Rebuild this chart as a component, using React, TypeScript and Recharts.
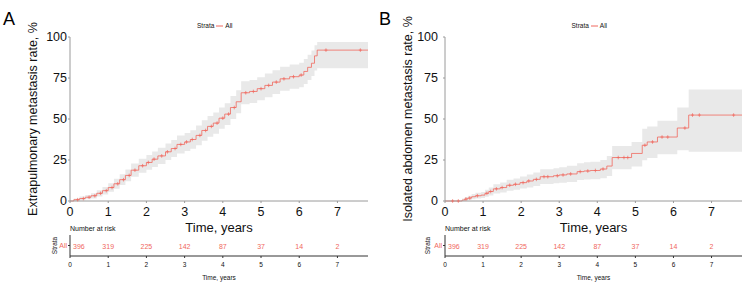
import React from "react";
import {
  Area,
  ComposedChart,
  Line,
  Scatter,
  XAxis,
  YAxis,
} from "recharts";

// panel A: extrapulmonary metastasis
const timesA = [0, 0.1, 0.25, 0.4, 0.55, 0.7, 0.85, 1.0, 1.15, 1.3, 1.45, 1.6, 1.8, 2.0, 2.15, 2.3, 2.5, 2.65, 2.8, 3.0, 3.15, 3.3, 3.45, 3.6, 3.75, 3.9, 4.05, 4.2, 4.35, 4.48, 4.7, 4.9, 5.1, 5.3, 5.5, 5.75, 6.0, 6.12, 6.22, 6.32, 6.4, 6.47, 7.8];
const rateA = [0, 0.8, 1.5, 2.3, 3.2, 4.7, 6.3, 8.2, 10.5, 13, 15.6, 18.8, 21.5, 23.5, 25.5, 27.5, 30, 32, 34.5, 36, 37.5, 40, 43, 45.5, 47.5, 50.5, 53, 57, 60.5, 66, 66.8, 68.5, 70.5, 72.5, 74.5, 75.8, 76.8, 79, 81.5, 84, 88.5, 92, 92];
const lowA = [0, 0, 0.4, 1, 1.6, 2.8, 4, 5.6, 7.5, 9.7, 12, 14.8, 17.2, 19, 20.8, 22.5, 25, 26.8, 29, 30.5, 31.8, 34, 36.8, 39.2, 41, 44, 46.4, 50, 53.5, 59, 59.8, 61.5, 63.3, 65.3, 67.2, 68.4, 69.3, 71.4, 73.8, 76.2, 79.5, 81, 81];
const highA = [0, 1.6, 2.7, 3.6, 4.8, 6.6, 8.6, 10.8, 13.5, 16.3, 19.2, 22.8, 25.8, 28, 30.2, 32.5, 35, 37.2, 40, 41.5, 43.2, 46, 49.2, 51.8, 54, 57, 59.6, 64, 67.5, 73, 73.8, 75.5, 77.7, 79.7, 81.8, 83.2, 84.3, 86.6, 89.2, 91.8, 95, 97, 97];
const censorA = [0.2, 0.35, 0.5, 0.65, 0.8, 0.95, 1.1, 1.25, 1.4, 1.55, 1.7, 1.9, 2.05, 2.2, 2.4, 2.55, 2.75, 2.9, 3.05, 3.2, 3.4, 3.55, 3.7, 3.85, 4.0, 4.15, 4.3, 4.6, 4.8, 5.0, 5.2, 5.4, 5.6, 5.85, 6.05, 6.7, 7.6];

// panel B: isolated abdomen metastasis
const timesB = [0, 0.45, 0.52, 0.6, 0.7, 0.8, 0.95, 1.05, 1.15, 1.27, 1.45, 1.62, 1.8, 1.97, 2.15, 2.32, 2.5, 2.85, 3.0, 3.2, 3.47, 3.65, 3.82, 4.08, 4.25, 4.39, 4.9, 5.18, 5.31, 5.58, 6.1, 6.4, 7.8];
const rateB = [0, 0.6, 1.2, 1.8, 2.6, 3.2, 3.6, 4.7, 5.8, 7.4, 8.2, 9.6, 10.2, 11.2, 12.2, 13.2, 14.8, 15.4, 15.9, 16.5, 17.9, 18.3, 18.6, 19.5, 21.3, 26.5, 29, 34, 36, 39, 44.5, 52.4, 52.4];
const lowB = [0, 0, 0.2, 0.6, 1.1, 1.5, 1.8, 2.6, 3.4, 4.6, 5.2, 6.3, 6.8, 7.6, 8.3, 9.1, 10.4, 10.8, 11.2, 11.6, 12.8, 13.1, 13.3, 13.9, 15.2, 19.4, 21, 24.8, 26.2, 28.5, 31, 30, 30];
const highB = [0, 1.6, 2.4, 3.2, 4.2, 5, 5.5, 6.9, 8.3, 10.2, 11.3, 13, 13.7, 14.9, 16.2, 17.4, 19.3, 20, 20.6, 21.5, 23, 23.6, 24, 25, 27.5, 33.5, 36, 44, 45.5, 49, 57, 68, 68];
const censorB = [0.2, 0.35, 0.55, 0.65, 0.85, 1.1, 1.2, 1.35, 1.5, 1.7, 1.85, 2.05, 2.2, 2.4, 2.6, 2.7, 2.95, 3.1, 3.3, 3.55, 3.75, 3.95, 4.15, 4.55, 4.7, 4.8, 5.25, 5.45, 5.7, 5.85, 6.3, 6.5, 6.68, 7.58];

const riskTimes = [0, 1, 2, 3, 4, 5, 6, 7];
const riskAll = [396, 319, 225, 142, 87, 37, 14, 2];
const yTicks = [0, 25, 50, 75, 100];

const RED = "#F0685E";
const FONT = "'Liberation Sans', Arial, Helvetica, sans-serif";

function stepValue(times: number[], rates: number[], t: number) {
  let v = rates[0];
  for (let i = 0; i < times.length; i++) if (times[i] <= t) v = rates[i];
  return v;
}

const CensorMark = (props: any) => {
  const { cx, cy } = props;
  if (cx == null || cy == null) return null;
  return (
    <g stroke={RED} strokeWidth={0.7}>
      <line x1={cx} x2={cx} y1={cy - 1.8} y2={cy + 1.8} />
      <line x1={cx - 1.5} x2={cx + 1.5} y1={cy} y2={cy} />
    </g>
  );
};

const RiskNumber = (props: any) => {
  const { cx, cy, payload } = props;
  const first = payload.t === 0;
  return (
    <text
      x={first ? cx + 3 : cx}
      y={cy + 1}
      textAnchor={first ? "start" : "middle"}
      dominantBaseline="central"
      fill={RED}
      fontSize={7}
      fontFamily={FONT}
    >
      {payload.n}
    </text>
  );
};

type PanelProps = {
  letter: string;
  yTitle: string;
  times: number[];
  rates: number[];
  lows: number[];
  highs: number[];
  censors: number[];
  left: number;
  axisWidth: number;
  rightPad: number;
  yTickGap: number;
  letterX: number;
};

function Panel(p: PanelProps) {
  const data = p.times.map((t, i) => ({ t, rate: p.rates[i], band: [p.lows[i], p.highs[i]] }));
  const censorData = p.censors.map((t) => ({ t, rate: stepValue(p.times, p.rates, t) }));
  const riskData = riskTimes.map((t, i) => ({ t, n: riskAll[i], s: "All" }));
  const plotLeft = p.axisWidth;
  const plotRight = 371 - p.rightPad;
  const legendX = (plotLeft + plotRight) / 2;
  const axisStroke = "#9a9a9a";

  return (
    <div style={{ position: "absolute", left: p.left, top: 0, width: 371, height: 283, fontFamily: FONT }}>
      <div style={{ position: "absolute", left: p.letterX, top: 9.5, fontSize: 18, lineHeight: "18px", color: "#000" }}>
        {p.letter}
      </div>
      <div
        style={{
          position: "absolute",
          left: legendX - 22,
          top: 22,
          fontSize: 6.5,
          lineHeight: "8px",
          display: "flex",
          alignItems: "center",
          color: "#111",
        }}
      >
        <span>Strata</span>
        <svg width={9} height={8} style={{ margin: "0 1px" }}>
          <line x1={1} x2={8} y1={4} y2={4} stroke={RED} strokeWidth={1} />
        </svg>
        <span>All</span>
      </div>

      <div style={{ position: "absolute", left: 0, top: 0 }}>
        <ComposedChart width={371} height={240} data={data} margin={{ top: 37, right: p.rightPad, bottom: 0, left: 0 }}>
          <XAxis
            type="number"
            dataKey="t"
            domain={[0, 7.8]}
            ticks={riskTimes}
            allowDataOverflow
            height={39}
            stroke={axisStroke}
            tickSize={2}
            tickMargin={4}
            tick={{ fill: "#111", fontSize: 12.5, fontFamily: FONT }}
            label={{ value: "Time, years", position: "insideBottom", offset: 8, fill: "#111", fontSize: 13, fontFamily: FONT }}
          />
          <YAxis
            type="number"
            domain={[0, 100]}
            ticks={yTicks}
            width={p.axisWidth}
            stroke={axisStroke}
            tickSize={2}
            tickMargin={p.yTickGap}
            tick={{ fill: "#111", fontSize: 12.5, fontFamily: FONT }}
            label={{
              value: p.yTitle,
              angle: -90,
              position: "center",
              dx: p.axisWidth === 70 ? -2 : 0,
              fill: "#111",
              fontSize: 12.5,
              fontFamily: FONT,
            }}
          />
          <Area type="stepAfter" dataKey="band" stroke="none" fill="#e9e9e9" fillOpacity={1} isAnimationActive={false} />
          <Line type="stepAfter" dataKey="rate" stroke={RED} strokeWidth={0.8} dot={false} isAnimationActive={false} />
          <Scatter data={censorData} dataKey="rate" shape={<CensorMark />} isAnimationActive={false} />
        </ComposedChart>
      </div>

      <div style={{ position: "absolute", left: plotLeft, top: 225, fontSize: 7, lineHeight: "8px", color: "#111" }}>
        Number at risk
      </div>
      <div style={{ position: "absolute", left: 0, top: 230 }}>
        <ComposedChart width={371} height={53} data={riskData} margin={{ top: 5, right: p.rightPad, bottom: 0, left: 0 }}>
          <XAxis
            type="number"
            dataKey="t"
            domain={[0, 7.8]}
            ticks={riskTimes}
            allowDataOverflow
            height={27}
            stroke="#333"
            tickSize={2}
            tickMargin={4}
            tick={{ fill: "#111", fontSize: 6.5, fontFamily: FONT }}
            label={{ value: "Time, years", position: "insideBottom", offset: 3, fill: "#111", fontSize: 6.5, fontFamily: FONT }}
          />
          <YAxis
            type="category"
            dataKey="s"
            allowDuplicatedCategory={false}
            width={p.axisWidth}
            stroke="#333"
            tickSize={2}
            tickMargin={1}
            tick={{ fill: RED, fontSize: 7, fontFamily: FONT }}
            label={{ value: "Strata", angle: -90, position: "center", dx: 20, fill: "#111", fontSize: 6.5, fontFamily: FONT }}
          />
          <Scatter dataKey="s" shape={<RiskNumber />} isAnimationActive={false} />
        </ComposedChart>
      </div>
    </div>
  );
}

export default function App() {
  return (
    <div style={{ position: "absolute", left: 0, top: 0, width: 742, height: 283, background: "#fff" }}>
      <Panel
        letter="A"
        yTitle="Extrapulmonary metastasis rate, %"
        times={timesA}
        rates={rateA}
        lows={lowA}
        highs={highA}
        censors={censorA}
        left={0}
        axisWidth={70}
        rightPad={3}
        yTickGap={1}
        letterX={3}
      />
      <Panel
        letter="B"
        yTitle="Isolated abdomen metastasis rate, %"
        times={timesB}
        rates={rateB}
        lows={lowB}
        highs={highB}
        censors={censorB}
        left={371}
        axisWidth={74}
        rightPad={0}
        yTickGap={5}
        letterX={8}
      />
    </div>
  );
}
